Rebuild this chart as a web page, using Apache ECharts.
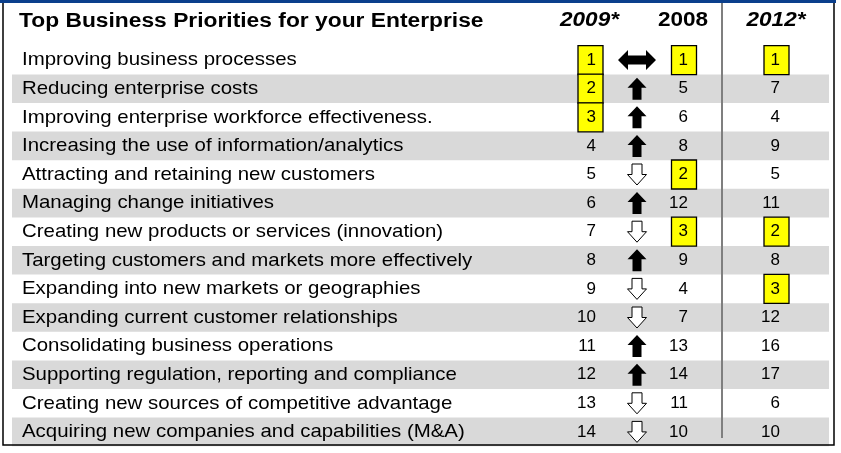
<!DOCTYPE html>
<html>
<head>
<meta charset="utf-8">
<script src="https://cdn.jsdelivr.net/npm/echarts@6/dist/echarts.min.js"></script>
<style>
  html, body { margin: 0; padding: 0; background: #fff; }
  #main { width: 841px; height: 453px; }
</style>
</head>
<body>
<div id="main"></div>
<script>
// 表格数据
var titleText = 'Top Business Priorities for your Enterprise';
var yearHeaders = ['2009*', '2008', '2012*'];
var priorities = [
  'Improving business processes',
  'Reducing enterprise costs',
  'Improving enterprise workforce effectiveness.',
  'Increasing the use of information/analytics',
  'Attracting and retaining new customers',
  'Managing change initiatives',
  'Creating new products or services (innovation)',
  'Targeting customers and markets more effectively',
  'Expanding into new markets or geographies',
  'Expanding current customer relationships',
  'Consolidating business operations',
  'Supporting regulation, reporting and compliance',
  'Creating new sources of competitive advantage',
  'Acquiring new companies and capabilities (M&A)'
];
var rank2009 = [1, 2, 3, 4, 5, 6, 7, 8, 9, 10, 11, 12, 13, 14];
var rank2008 = [1, 5, 6, 8, 2, 12, 3, 9, 4, 7, 13, 14, 11, 10];
var rank2012 = [1, 7, 4, 9, 5, 11, 2, 8, 3, 12, 16, 17, 6, 10];

var FONT = '"Liberation Sans", Arial, Helvetica, sans-serif';

/*列位置*/
var LABEL_X = 22;
var ARROW_X = 637;
var cols = [
  { box: 590.5, right: 596, ranks: rank2009 },
  { box: 684, right: 688, ranks: rank2008 },
  { box: 776.5, right: 780, ranks: rank2012 }
];

var chart = echarts.init(document.getElementById('main'), null, { renderer: 'canvas' });

//灰色隔行
function stripeSeries() {
  var rows = [];
  for (var i = 0; i < priorities.length; i++) {
    if (i % 2 === 1) rows.push([12, i]);
  }
  return {
    type: 'custom',
    z: 1,
    data: rows,
    encode: { x: 0, y: 1 },
    renderItem: function (params, api) {
      var p = api.coord([api.value(0), api.value(1)]);
      var h = api.size([0, 1])[1];
      var p2 = api.coord([829, api.value(1)]);
      return {
        type: 'rect',
        shape: { x: p[0], y: p[1] - h / 2, width: p2[0] - p[0], height: h },
        style: { fill: '#d9d9d9' }
      };
    }
  };
}

//文字标签
function labelSeries() {
  return {
    type: 'custom',
    z: 5,
    data: priorities.map(function (t, i) { return [LABEL_X, i]; }),
    encode: { x: 0, y: 1 },
    renderItem: function (params, api) {
      var p = api.coord([api.value(0), api.value(1)]);
      return {
        type: 'text',
        x: p[0],
        y: p[1],
        scaleX: 1.075,
        style: {
          text: priorities[params.dataIndex],
          font: '19px ' + FONT,
          fill: '#000',
          textAlign: 'left', align: 'left',
          textVerticalAlign: 'middle', verticalAlign: 'middle'
        }
      };
    }
  };
}

//排名列（前三名黄色方框）
function rankSeries(col) {
  return {
    type: 'custom',
    z: 5,
    data: col.ranks.map(function (r, i) { return [col.box, i, r]; }),
    encode: { x: 0, y: 1 },
    renderItem: function (params, api) {
      var p = api.coord([api.value(0), api.value(1)]);
      var r = api.value(2);
      var children = [];
      if (r <= 3) {
        children.push({
          type: 'rect',
          shape: { x: p[0] - 12.5, y: p[1] - 14.5, width: 25, height: 29 },
          style: { fill: '#ffff00', stroke: '#000', lineWidth: 1.3 }
        });
      }
      children.push({
        type: 'text',
        x: p[0] + (col.right - col.box),
        y: p[1],
        style: {
          text: String(r),
          font: '17px ' + FONT,
          fill: '#000',
          textAlign: 'right', align: 'right',
          textVerticalAlign: 'middle', verticalAlign: 'middle'
        }
      });
      return { type: 'group', children: children };
    }
  };
}

//箭头（2009对比2008）
function arrowSeries() {
  return {
    type: 'custom',
    z: 5,
    data: rank2009.map(function (r, i) { return [ARROW_X, i, rank2008[i] - r]; }),
    encode: { x: 0, y: 1 },
    renderItem: function (params, api) {
      var p = api.coord([api.value(0), api.value(1)]);
      var d = api.value(2);
      var pts, style;
      if (d === 0) {
        pts = [[-19, 0], [-9, -10], [-9, -4.5], [9, -4.5], [9, -10], [19, 0], [9, 10], [9, 4.5], [-9, 4.5], [-9, 10]];
        style = { fill: '#000' };
      } else if (d > 0) {
        pts = [[0, -11], [9.5, -1], [4.5, -1], [4.5, 11], [-4.5, 11], [-4.5, -1], [-9.5, -1]];
        style = { fill: '#000' };
      } else {
        pts = [[0, 10.5], [9.5, 0], [5, 0], [5, -10.5], [-5, -10.5], [-5, 0], [-9.5, 0]];
        style = { fill: '#fff', stroke: '#000', lineWidth: 1 };
      }
      return {
        type: 'polygon',
        shape: { points: pts.map(function (q) { return [p[0] + q[0], p[1] + q[1]]; }) },
        style: style
      };
    }
  };
}

var option = {
  animation: false,
  backgroundColor: '#fff',
  grid: { left: 0, right: 0, top: 45.8, height: 400.4 },
  xAxis: { type: 'value', min: 0, max: 841, show: false },
  yAxis: { type: 'category', inverse: true, data: priorities, show: false },
  graphic: [
    // 外框
    { type: 'rect', z: 10, shape: { x: 3, y: 1.5, width: 831, height: 443.5 },
      style: { fill: 'none', stroke: '#000', lineWidth: 1.5 } },
    { type: 'rect', z: 11, shape: { x: 0, y: 0, width: 836, height: 3 },
      style: { fill: '#0b3f8c' } },
    // 分隔线
    { type: 'line', z: 10, shape: { x1: 722, y1: 3, x2: 722, y2: 438 },
      style: { stroke: '#7f7f7f', lineWidth: 2 } },
    // 标题
    { type: 'text', z: 10, x: 19, y: 21, scaleX: 1.14,
      style: { text: titleText, font: 'bold 20px ' + FONT, fill: '#000',
        textAlign: 'left', align: 'left', textVerticalAlign: 'middle', verticalAlign: 'middle' } },
    { type: 'text', z: 10, x: 589.5, y: 20, scaleX: 1.1,
      style: { text: yearHeaders[0], font: 'italic bold 20.5px ' + FONT, fill: '#000',
        textAlign: 'center', align: 'center', textVerticalAlign: 'middle', verticalAlign: 'middle' } },
    { type: 'text', z: 10, x: 683, y: 20, scaleX: 1.1,
      style: { text: yearHeaders[1], font: 'bold 20.5px ' + FONT, fill: '#000',
        textAlign: 'center', align: 'center', textVerticalAlign: 'middle', verticalAlign: 'middle' } },
    { type: 'text', z: 10, x: 776, y: 20, scaleX: 1.1,
      style: { text: yearHeaders[2], font: 'italic bold 20.5px ' + FONT, fill: '#000',
        textAlign: 'center', align: 'center', textVerticalAlign: 'middle', verticalAlign: 'middle' } }
  ],
  series: [
    stripeSeries(),
    labelSeries(),
    rankSeries(cols[0]),
    rankSeries(cols[1]),
    rankSeries(cols[2]),
    arrowSeries()
  ]
};

chart.setOption(option);
</script>
</body>
</html>
